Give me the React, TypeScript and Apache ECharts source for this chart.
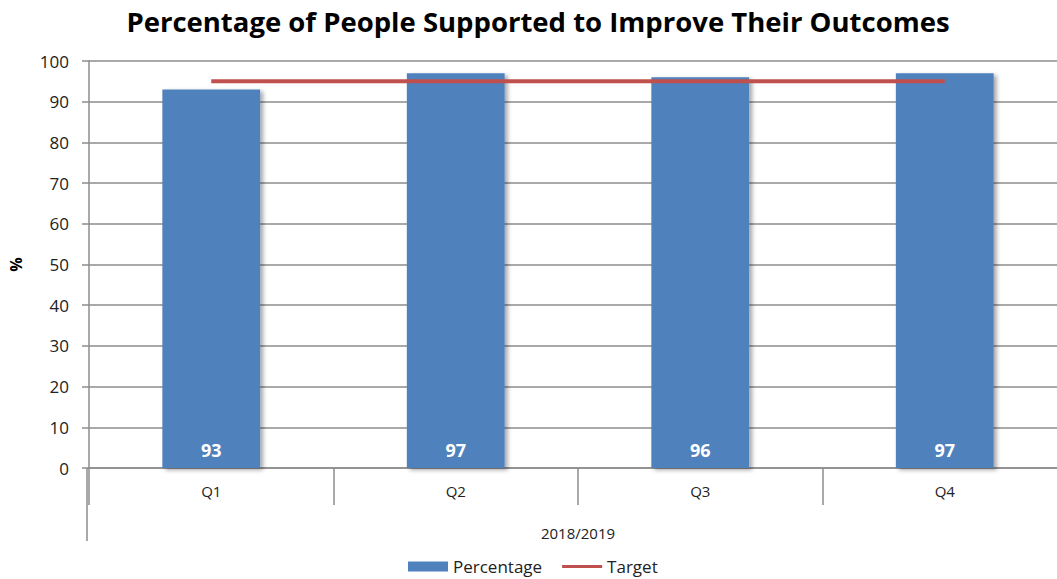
import React, { useEffect, useRef } from "react";
import * as echarts from "echarts";

const categories = ["Q1", "Q2", "Q3", "Q4"];
const percentageValues = [93, 97, 96, 97];
const targetValues = [95, 95, 95, 95];
const yTicks = { min: 0, max: 100, interval: 10 };
const groupLabel = "2018/2019";

export default function App() {
  const ref = useRef<HTMLDivElement>(null);
  useEffect(() => {
    if (!ref.current) return;
    const chart = echarts.init(ref.current, null, { renderer: "svg" });
    const font = "'Open Sans', 'Noto Sans', sans-serif";
    chart.setOption({
      animation: false,
      backgroundColor: "#ffffff",
      title: {
        text: "Percentage of People Supported to Improve Their Outcomes",
        left: 533,
        textAlign: "center",
        top: 2,
        textStyle: { fontFamily: font, fontSize: 27.5, fontWeight: "bold", color: "#000" },
      },
      grid: { left: 87, width: 980, top: 61, height: 407, containLabel: false },
      legend: {
        top: 553,
        left: 403,
        itemWidth: 40,
        itemHeight: 10,
        itemGap: 20,
        textStyle: { fontFamily: font, fontSize: 17, color: "#222" },
        data: [
          { name: "Percentage", icon: "rect" },
          { name: "Target", icon: "path://M0,0L0,0 M0,3.5L40,3.5L40,6.5L0,6.5Z M40,10L40,10" },
        ],
      },
      xAxis: {
        type: "category",
        data: categories,
        name: groupLabel,
        nameLocation: "middle",
        nameGap: 57,
        nameTextStyle: { fontFamily: font, fontSize: 15, color: "#222" },
        axisLine: { lineStyle: { color: "#8c8c8c", width: 1.5 } },
        axisTick: { show: true, interval: 0, length: 37, lineStyle: { color: "#8c8c8c", width: 1.5 } },
        axisLabel: { fontFamily: font, fontSize: 15, color: "#222", margin: 15 },
      },
      yAxis: {
        type: "value",
        min: yTicks.min,
        max: yTicks.max,
        interval: yTicks.interval,
        name: "%",
        nameLocation: "middle",
        nameGap: 65,
        nameRotate: 90,
        nameTextStyle: { fontFamily: font, fontSize: 16, fontWeight: "bold", color: "#000" },
        axisLine: { show: true, lineStyle: { color: "#8c8c8c", width: 1.5 } },
        axisTick: { show: true, length: 7, lineStyle: { color: "#8c8c8c", width: 1.5 } },
        axisLabel: { fontFamily: font, fontSize: 17, color: "#222", margin: 20 },
        splitLine: { lineStyle: { color: "#8c8c8c", width: 1.5 } },
      },
      graphic: [
        {
          type: "line",
          shape: { x1: 87, y1: 468, x2: 87, y2: 541 },
          style: { stroke: "#8c8c8c", lineWidth: 1.5 },
        },
      ],
      series: [
        {
          name: "Percentage",
          type: "bar",
          data: percentageValues,
          barWidth: "40%",
          itemStyle: {
            color: "#4F81BD",
            shadowColor: "rgba(0,0,0,0.35)",
            shadowBlur: 4,
            shadowOffsetX: 3,
            shadowOffsetY: 2,
          },
          label: {
            show: true,
            position: "insideBottom",
            distance: 9,
            fontFamily: font,
            fontSize: 18,
            fontWeight: "bold",
            color: "#ffffff",
          },
        },
        {
          name: "Target",
          type: "line",
          data: targetValues,
          symbol: "none",
          lineStyle: { color: "#C0504D", width: 4 },
          itemStyle: { color: "#C0504D" },
          z: 5,
        },
      ],
    });
    return () => chart.dispose();
  }, []);
  return (
    <div style={{ position: "fixed", left: 0, top: 0, width: 1057, height: 579, overflow: "hidden" }}>
      <div ref={ref} style={{ position: "absolute", left: 0, top: 0, width: 1090, height: 579 }} />
    </div>
  );
}
